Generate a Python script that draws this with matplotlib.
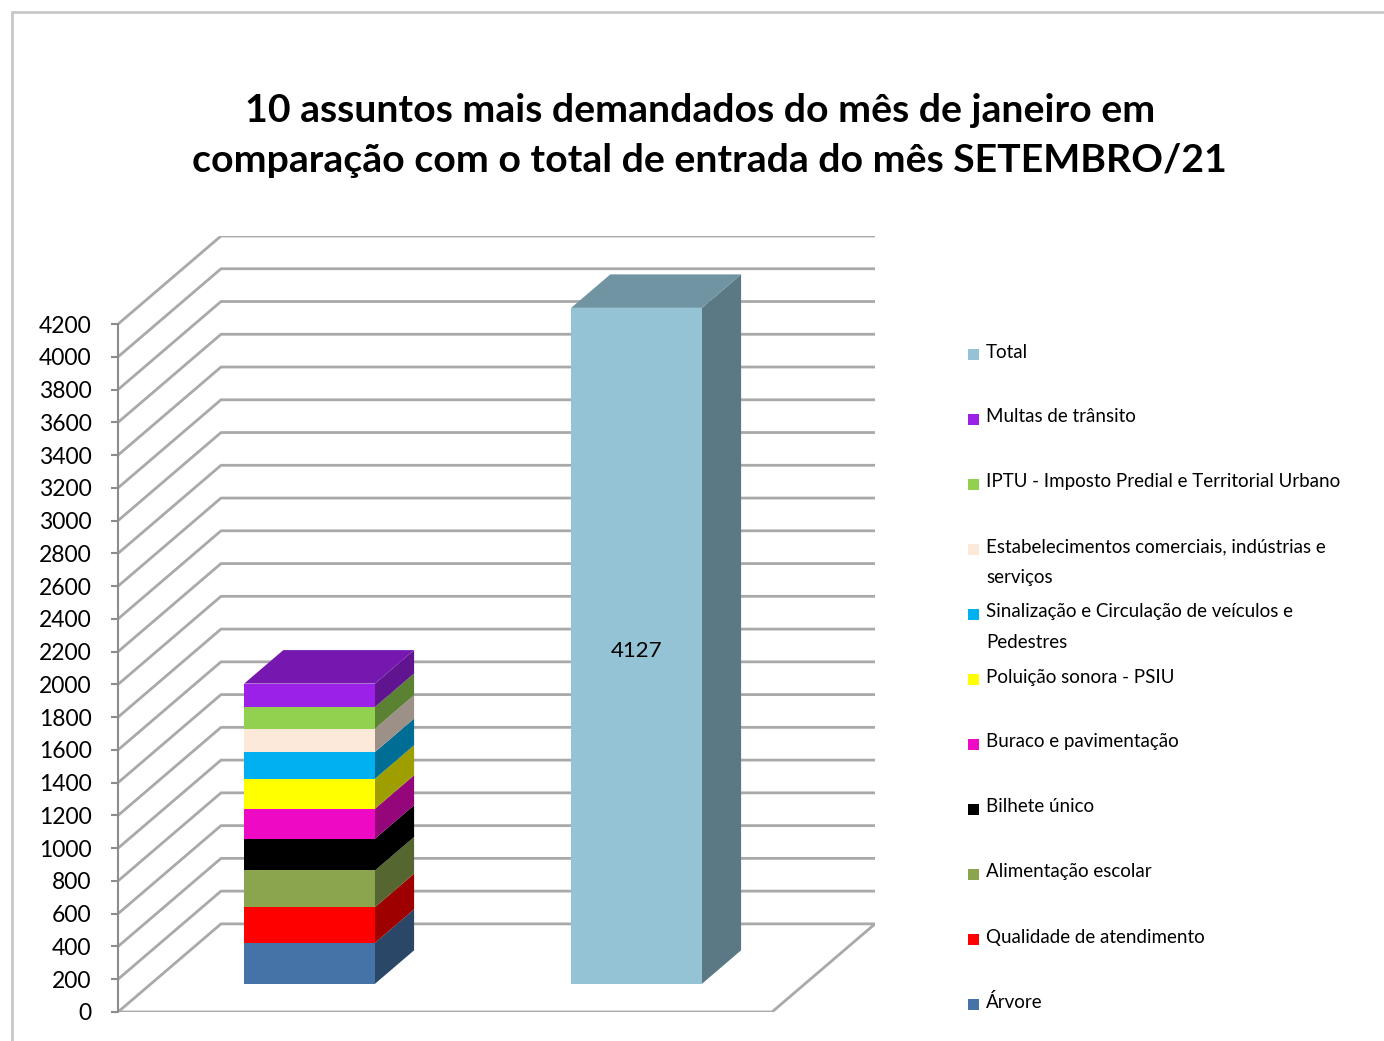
import matplotlib
matplotlib.use("Agg")
import matplotlib.pyplot as plt
import numpy as np
from matplotlib.patches import Polygon, Rectangle
from matplotlib.colors import to_rgb

plt.rcParams['font.family'] = ['Lato', 'DejaVu Sans']

# data
subjects = ["Árvore", "Qualidade de atendimento", "Alimentação escolar", "Bilhete único",
            "Buraco e pavimentação", "Poluição sonora - PSIU",
            "Sinalização e Circulação de veículos e\nPedestres",
            "Estabelecimentos comerciais, indústrias e\nserviços",
            "IPTU - Imposto Predial e Territorial Urbano", "Multas de trânsito"]
subject_values = [250, 218, 224, 194, 183, 183, 163, 143, 132, 143]
subject_colors = ["#4572a7", "#ff0000", "#8aa54e", "#000000", "#ee0ac5", "#ffff00",
                  "#00b0f0", "#fde9d9", "#92d050", "#9b20e8"]
total_label = "Total"
total_value = 4127
total_color = "#93c3d5"
y_ticks = list(range(0, 4201, 200))

W, H = 1384, 1041
fig = plt.figure(figsize=(W / 100, H / 100), dpi=100)

# outer frame of the chart area
fig.add_artist(Rectangle((12 / W, -0.05), 1.1, 1 - 12 / H + 0.05, transform=fig.transFigure,
                         fill=False, edgecolor="#c8c8c8", lw=2))

# axes placed in pixels: front floor from x=118 to 770, back wall up to 875
x0, x1 = 118, 875
y_bot, y_top = 1012, 236
ax = fig.add_axes([x0 / W, 1 - y_bot / H, (x1 - x0) / W, (y_bot - y_top) / H])
ax.patch.set_alpha(0)

DX, DY = 0.315, 538       # depth offset (data units)
XMIN, XMAX = -0.5, 1.5
ax.set_xlim(XMIN, XMAX + DX)
ax.set_ylim(0, 4200 + DY)

grid_kw = dict(color="#a9a9a9", lw=2.0, solid_capstyle="butt", zorder=1)
for v in y_ticks:
    ax.plot([XMIN, XMIN + DX, XMAX + DX], [v, v + DY, v + DY], **grid_kw)
# floor edges
ax.plot([XMIN, XMAX, XMAX + DX], [0, 0, DY], **grid_kw)

for s in ["top", "right", "bottom"]:
    ax.spines[s].set_visible(False)
ax.spines["left"].set_bounds(0, 4200)
ax.spines["left"].set_color("#8c8c8c")
ax.spines["left"].set_linewidth(1.5)
ax.set_xticks([])
ax.set_yticks(y_ticks)
ax.tick_params(axis="y", length=5, width=1.5, color="#8c8c8c", pad=14, labelsize=16.5)


def shade(c, f):
    return tuple(np.clip(np.array(to_rgb(c)) * f, 0, 1))


def bar3d(xc, bottom, height, color, top=False, width=0.4, z0=0.32, z1=0.70):
    xl, xr = xc - width / 2, xc + width / 2
    yb, yt = bottom, bottom + height
    fx, fy = z0 * DX, z0 * DY
    bx, by = z1 * DX, z1 * DY
    side = Polygon([(xr + fx, yb + fy), (xr + bx, yb + by), (xr + bx, yt + by), (xr + fx, yt + fy)],
                   closed=True, facecolor=shade(color, 0.62), edgecolor="none", zorder=3)
    front = Polygon([(xl + fx, yb + fy), (xr + fx, yb + fy), (xr + fx, yt + fy), (xl + fx, yt + fy)],
                    closed=True, facecolor=color, edgecolor="none", zorder=4)
    ax.add_patch(side)
    ax.add_patch(front)
    if top:
        tp = Polygon([(xl + fx, yt + fy), (xr + fx, yt + fy), (xr + bx, yt + by), (xl + bx, yt + by)],
                     closed=True, facecolor=shade(color, 0.76), edgecolor="none", zorder=4)
        ax.add_patch(tp)
    return xc + fx, bottom + height / 2 + fy


bottom = 0
for i, (v, c) in enumerate(zip(subject_values, subject_colors)):
    bar3d(-0.015, bottom, v, c, top=(i == len(subject_values) - 1))
    bottom += v

cx, cy = bar3d(0.985, 0, total_value, total_color, top=True)
ax.text(cx, cy - 30, str(total_value), ha="center", va="center", fontsize=16, zorder=6)

# title
fig.text(700 / W, 1 - 110 / H, "10 assuntos mais demandados do mês de janeiro em",
         ha="center", va="center", fontsize=28.3, fontweight="bold")
fig.text(709 / W, 1 - 160 / H, "comparação com o total de entrada do mês SETEMBRO/21",
         ha="center", va="center", fontsize=28.3, fontweight="bold")

# legend (Total first, then the stack from top to bottom)
legend_labels = [total_label] + subjects[::-1]
legend_colors = [total_color] + subject_colors[::-1]
for i, (lab, col) in enumerate(zip(legend_labels, legend_colors)):
    yc = 352 + 65 * i
    fig.add_artist(Rectangle(((968) / W, 1 - (yc + 8) / H), 11 / W, 11 / H,
                             transform=fig.transFigure, facecolor=col, edgecolor="none"))
    for j, line in enumerate(lab.split("\n")):
        fig.text(986 / W, 1 - (yc + 30 * j) / H, line, ha="left", va="center", fontsize=13.5)

fig.savefig("out.png", dpi=100)
